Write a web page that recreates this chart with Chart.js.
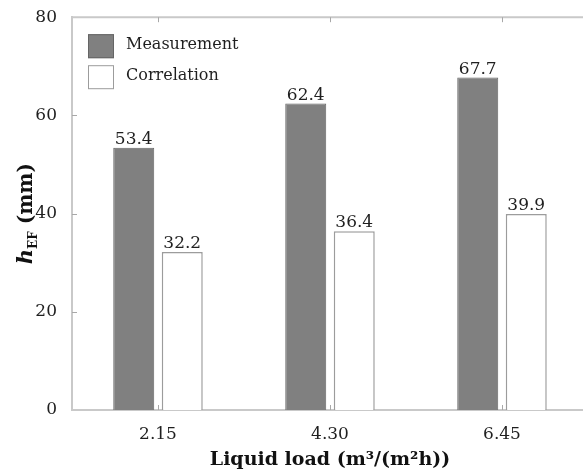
<!DOCTYPE html>
<html>
<head>
<meta charset="utf-8">
<script src="https://cdn.jsdelivr.net/npm/chart.js@4"></script>
<style>
  html, body { margin: 0; padding: 0; background: #fff; overflow: hidden; }
  canvas { display: block; }
</style>
</head>
<body>
<canvas id="barChart" width="588" height="474"></canvas>
<script>
const loads = ["2.15", "4.30", "6.45"];
const measured = [53.4, 62.4, 67.7];
const correlated = [32.2, 36.4, 39.9];
const seriesNames = ["Measurement", "Correlation"];

const FONT = "'DejaVu Serif', serif";
const AXIS = "#c9c9c9";
const TEXT = "#1f1f1f";

const ctx = document.getElementById("barChart");

// top frame line + small inward tick marks
const framePlugin = {
  id: "frame",
  afterDraw(chart) {
    const { ctx, chartArea: a, scales } = chart;
    ctx.save();
    ctx.strokeStyle = AXIS;
    ctx.lineWidth = 2;
    ctx.beginPath();
    ctx.moveTo(a.left - 1, a.top);
    ctx.lineTo(a.right, a.top);
    ctx.stroke();
    ctx.strokeStyle = "#a8a8a8";
    ctx.lineWidth = 1;
    ctx.beginPath();
    loads.forEach((l, i) => {
      const x = Math.round(scales.x.getPixelForValue(i)) + 0.5;
      ctx.moveTo(x, a.bottom);
      ctx.lineTo(x, a.bottom - 5);
      ctx.moveTo(x, a.top);
      ctx.lineTo(x, a.top + 5);
    });
    scales.y.ticks.forEach(t => {
      if (t.value === 0 || t.value === 80) return;
      const y = Math.round(scales.y.getPixelForValue(t.value)) + 0.5;
      ctx.moveTo(a.left, y);
      ctx.lineTo(a.left + 5, y);
    });
    ctx.stroke();
    ctx.restore();
  }
};

// numbers on top of bars
const valuePlugin = {
  id: "values",
  afterDatasetsDraw(chart) {
    const c = chart.ctx;
    c.save();
    c.font = "17px " + FONT;
    c.fillStyle = TEXT;
    c.textAlign = "center";
    c.textBaseline = "bottom";
    chart.data.datasets.forEach((ds, di) => {
      chart.getDatasetMeta(di).data.forEach((bar, i) => {
        c.fillText(ds.data[i].toFixed(1), bar.x, bar.y);
      });
    });
    c.restore();
  }
};

// legend inside the plot, top-left
const legendPlugin = {
  id: "innerLegend",
  afterDraw(chart) {
    const c = chart.ctx;
    const a = chart.chartArea;
    c.save();
    chart.data.datasets.forEach((ds, i) => {
      const bx = a.left + 16, by = a.top + 17 + i * 31;
      c.fillStyle = ds.backgroundColor;
      c.fillRect(bx, by, 26, 24);
      c.strokeStyle = ds.borderColor;
      c.lineWidth = 1;
      c.strokeRect(bx + 0.5, by + 0.5, 25, 23);
      c.fillStyle = TEXT;
      c.font = "16px " + FONT;
      c.textBaseline = "middle";
      c.fillText(ds.label, bx + 38, by + 11);
    });
    c.restore();
  }
};

// y title: h_EF (mm)
const yTitlePlugin = {
  id: "yTitle",
  afterDraw(chart) {
    const c = chart.ctx;
    const a = chart.chartArea;
    const parts = [
      { t: "h", f: "italic bold 21px " + FONT, dy: 0 },
      { t: "EF", f: "bold 12px " + FONT, dy: 5 },
      { t: " (mm)", f: "bold 20px " + FONT, dy: 0 }
    ];
    c.save();
    let total = 0;
    parts.forEach(p => { c.font = p.f; p.w = c.measureText(p.t).width; total += p.w; });
    c.translate(32, (a.top + a.bottom) / 2);
    c.rotate(-Math.PI / 2);
    c.fillStyle = "#111";
    c.textBaseline = "alphabetic";
    let x = -total / 2;
    parts.forEach(p => {
      c.font = p.f;
      c.fillText(p.t, x, p.dy);
      x += p.w;
    });
    c.restore();
  }
};

new Chart(ctx, {
  type: "bar",
  data: {
    labels: loads,
    datasets: [
      {
        label: seriesNames[0],
        data: measured,
        backgroundColor: "#808080",
        borderColor: "#656565",
        borderWidth: 1,
        categoryPercentage: 0.564,
        barPercentage: 0.845,
      },
      {
        label: seriesNames[1],
        data: correlated,
        backgroundColor: "#ffffff",
        borderColor: "#9c9c9c",
        borderWidth: 1.5,
        categoryPercentage: 0.564,
        barPercentage: 0.845,
      },
    ],
  },
  options: {
    responsive: false,
    animation: false,
    layout: { padding: { top: 14, right: 0, left: 0, bottom: 0 } },
    plugins: {
      legend: { display: false },
      tooltip: { enabled: false },
    },
    scales: {
      x: {
        grid: { display: false },
        border: { display: true, color: AXIS, width: 2 },
        ticks: { font: { family: FONT, size: 17 }, color: TEXT, padding: 6 },
        title: {
          display: true,
          text: "Liquid load (m³/(m²h))",
          font: { family: FONT, size: 19, weight: "bold" },
          color: "#111",
          padding: { top: 2, bottom: 3 },
        },
        afterFit: (s) => { s.height = 64; },
      },
      y: {
        min: 0,
        max: 80,
        grid: { display: false },
        border: { display: true, color: AXIS, width: 2 },
        ticks: { stepSize: 20, font: { family: FONT, size: 17 }, color: TEXT, padding: 7 },
        afterFit: (s) => { s.width = 72; },
      },
    },
  },
  plugins: [framePlugin, valuePlugin, legendPlugin, yTitlePlugin],
});
</script>
</body>
</html>
